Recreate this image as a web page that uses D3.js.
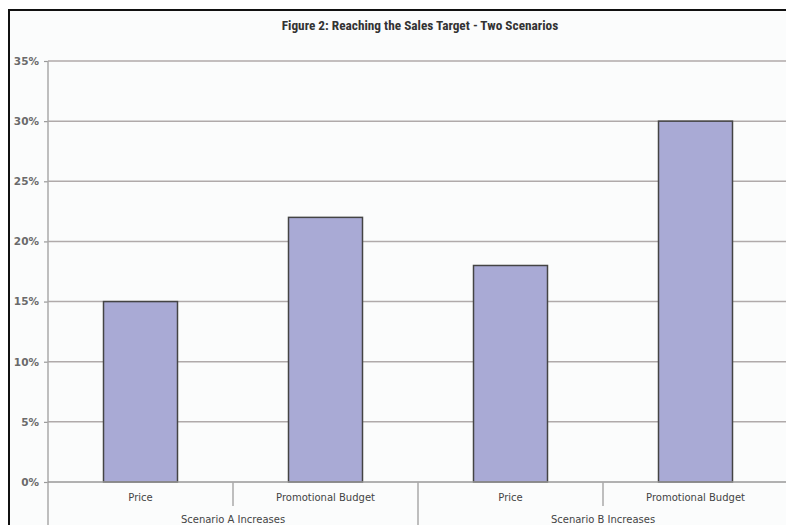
<!DOCTYPE html>
<html>
<head>
<meta charset="utf-8">
<script src="https://cdn.jsdelivr.net/npm/d3@7"></script>
<style>
  body { margin: 0; background: #fff; }
  svg { display: block; }
  .tick text { font-family: "DejaVu Sans", Verdana, sans-serif; font-size: 10.5px; font-weight: bold; fill: #6a6a6a; }
  .cat { font-family: "DejaVu Sans", Verdana, sans-serif; font-size: 10px; fill: #444; }
  .title { font-family: "Liberation Sans Narrow", "Roboto Condensed", Roboto, sans-serif; font-weight: bold; font-size: 13.3px; fill: #333; }
</style>
</head>
<body>
<svg width="786" height="525"></svg>
<script>
// data
const groups = ["Scenario A Increases", "Scenario B Increases"];
const items = ["Price", "Promotional Budget"];
const values = [15, 22, 18, 30];
const yTicks = [0, 5, 10, 15, 20, 25, 30, 35];

const svg = d3.select("svg");
const W = 786, H = 525;
const margin = {left: 48, top: 61, right: -2, bottom: 43};
const plotRight = W - margin.right, plotBottom = H - margin.bottom;

// frame
svg.append("rect").attr("x", 9).attr("y", 10).attr("width", W).attr("height", H)
   .attr("fill", "#fbfcfc").attr("stroke", "#111").attr("stroke-width", 2);

svg.append("text").attr("class", "title")
   .attr("x", 420).attr("y", 30).attr("text-anchor", "middle")
   .text("Figure 2: Reaching the Sales Target - Two Scenarios");

const cats = [];
groups.forEach((g, gi) => items.forEach((it, ii) => cats.push({group: g, item: it, key: gi + "-" + ii})));

const x = d3.scaleBand().domain(cats.map(d => d.key)).range([margin.left, plotRight]).padding(0);
const y = d3.scaleLinear().domain([0, 35]).range([plotBottom, margin.top]);

// gridlines
svg.append("g").selectAll("line").data(yTicks.slice(1)).enter().append("line")
   .attr("x1", margin.left).attr("x2", plotRight)
   .attr("y1", d => y(d)).attr("y2", d => y(d))
   .attr("stroke", "#b0aaaa").attr("stroke-width", 1.5);

// y axis
const yAxis = svg.append("g").attr("transform", `translate(${margin.left},0)`)
   .call(d3.axisLeft(y).tickValues(yTicks).tickFormat(d => d + "%").tickSize(4).tickPadding(5));
yAxis.select(".domain").remove();
yAxis.selectAll(".tick line").attr("stroke", "#999").attr("stroke-width", 1.2);
svg.append("line").attr("x1", margin.left).attr("x2", margin.left)
   .attr("y1", margin.top).attr("y2", H).attr("stroke", "#aaa").attr("stroke-width", 1.5);

// bars
svg.append("g").selectAll("rect").data(cats).enter().append("rect")
   .attr("x", d => x(d.key) + x.bandwidth() * 0.3)
   .attr("width", x.bandwidth() * 0.4)
   .attr("y", (d, i) => y(values[i]))
   .attr("height", (d, i) => y(0) - y(values[i]))
   .attr("fill", "#a9aad5").attr("stroke", "#444").attr("stroke-width", 1.5);

// baseline
svg.append("line").attr("x1", margin.left).attr("x2", plotRight)
   .attr("y1", y(0)).attr("y2", y(0)).attr("stroke", "#999").attr("stroke-width", 1.5);

// category separators
cats.forEach((d, i) => {
  if (i === 0) return;
  const xs = x(d.key);
  const full = i % items.length === 0;
  svg.append("line").attr("x1", xs).attr("x2", xs)
     .attr("y1", y(0)).attr("y2", full ? H : y(0) + 24)
     .attr("stroke", "#aaa").attr("stroke-width", 1.5);
});

// item labels
svg.append("g").selectAll("text").data(cats).enter().append("text")
   .attr("class", "cat").attr("text-anchor", "middle")
   .attr("x", d => x(d.key) + x.bandwidth() / 2).attr("y", y(0) + 19)
   .text(d => d.item);

// group labels
svg.append("g").selectAll("text").data(groups).enter().append("text")
   .attr("class", "cat").attr("text-anchor", "middle")
   .attr("x", (g, gi) => (x(gi + "-0") + x(gi + "-" + (items.length - 1)) + x.bandwidth()) / 2)
   .attr("y", y(0) + 41)
   .text(g => g);
</script>
</body>
</html>
